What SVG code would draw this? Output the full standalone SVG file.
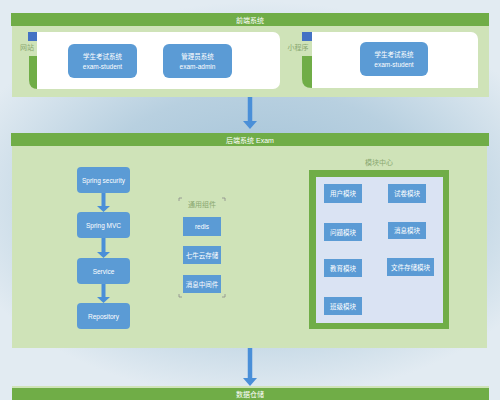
<svg xmlns="http://www.w3.org/2000/svg" width="500" height="400" viewBox="0 0 500 400">
<defs>
<radialGradient id="bg" cx="0.52" cy="0.5" r="0.62" gradientTransform="translate(0.5 0.5) scale(1 0.8) translate(-0.5 -0.5)">
<stop offset="0" stop-color="#9fc0d6"/>
<stop offset="0.55" stop-color="#b8d0e0"/>
<stop offset="1" stop-color="#e2ebf2"/>
</radialGradient>
<marker id="ah" viewBox="0 0 10 10" refX="9" refY="5" markerWidth="3" markerHeight="3" orient="auto" markerUnits="strokeWidth">
<path d="M0,0 L10,5 L0,10 z" fill="#4a8fd8"/>
</marker>
</defs>
<style>
.bar{fill:#70ad47}
.panel{fill:#cfe3b8}
.bartext{font-family:"Liberation Sans","Noto Sans CJK SC",sans-serif;font-size:7px;fill:#ffffff;text-anchor:middle}
.node rect{fill:#5b9bd5}
.node text{font-family:"Liberation Sans","Noto Sans CJK SC",sans-serif;font-size:6.5px;fill:#ffffff;text-anchor:middle}
.lbl{font-family:"Liberation Sans","Noto Sans CJK SC",sans-serif;font-size:7px;fill:#8aa870;text-anchor:middle}
.white{fill:#ffffff}
.tab{fill:#70ad47}
.sq{fill:#4472c4}
.conn{stroke:#4a8fd8;fill:none}
.bracket{stroke:#8c8c8c;stroke-width:0.8;fill:none}
</style>
<rect width="500" height="400" fill="url(#bg)"/>

<!-- Front-end section -->
<g id="frontend">
<rect class="panel" x="12" y="13" width="477" height="84"/>
<rect class="bar" x="11" y="13" width="478" height="13"/>
<text class="bartext" x="250" y="22.5">前端系统</text>
</g>
<g id="website">
<path class="tab" d="M29,56 H37 V89 H38 Q29,89 29,80 Z"/>
<rect class="white" x="37" y="32" width="243" height="57" rx="7"/>
<rect class="white" x="37" y="32" width="10" height="57"/>
<rect class="sq" x="28" y="32" width="9" height="9"/>
<text class="lbl" x="27" y="50">网站</text>
</g>
<g id="miniapp">
<path class="tab" d="M302,56 H312 V88 H312 Q302,88 302,79 Z"/>
<rect class="white" x="312" y="32" width="166" height="56" rx="7"/>
<rect class="white" x="312" y="32" width="10" height="56"/>
<rect class="white" x="468" y="78" width="10" height="10"/>
<rect class="sq" x="302" y="32" width="10" height="9"/>
<text class="lbl" x="298" y="50">小程序</text>
</g>
<g id="n-student1" class="node">
<rect x="68" y="44" width="69" height="34" rx="6"/>
<text x="102.5" y="58.5">学生考试系统</text>
<text x="102.5" y="68.5" font-size="5.5">exam-student</text>
</g>
<g id="n-admin" class="node">
<rect x="163" y="44" width="69" height="34" rx="6"/>
<text x="197.5" y="58.5">管理员系统</text>
<text x="197.5" y="68.5" font-size="5.5">exam-admin</text>
</g>
<g id="n-student2" class="node">
<rect x="360" y="42" width="68" height="34" rx="6"/>
<text x="394" y="56.5">学生考试系统</text>
<text x="394" y="66.5" font-size="5.5">exam-student</text>
</g>

<!-- Backend section -->
<g id="backend">
<rect class="panel" x="12" y="133" width="475" height="215"/>
<rect class="bar" x="11" y="133" width="478" height="13"/>
<text class="bartext" x="250" y="142.5">后端系统 Exam</text>
</g>
<g id="n-security" class="node">
<rect x="77" y="167" width="53" height="26" rx="4"/>
<text x="103.5" y="182.5">Spring security</text>
</g>
<g id="n-mvc" class="node">
<rect x="77" y="212" width="53" height="26" rx="4"/>
<text x="103.5" y="227.5">Spring MVC</text>
</g>
<g id="n-service" class="node">
<rect x="77" y="258" width="53" height="26" rx="4"/>
<text x="103.5" y="273.5">Service</text>
</g>
<g id="n-repository" class="node">
<rect x="77" y="303" width="53" height="26" rx="4"/>
<text x="103.5" y="318.5">Repository</text>
</g>

<g id="common">
<text class="lbl" x="202" y="207">通用组件</text>
<path class="bracket" d="M179,201 V198 H182 M222,198 H225 V201 M179,294 V297 H182 M222,297 H225 V294"/>
</g>
<g id="n-redis" class="node">
<rect x="183" y="217" width="38" height="19"/>
<text x="202" y="229">redis</text>
</g>
<g id="n-qiniu" class="node">
<rect x="183" y="246" width="38" height="18"/>
<text x="202" y="257.5">七牛云存储</text>
</g>
<g id="n-mq" class="node">
<rect x="183" y="275" width="38" height="18"/>
<text x="202" y="286.5">消息中间件</text>
</g>

<g id="modules">
<text class="lbl" x="379" y="165">模块中心</text>
<rect x="309" y="170" width="140" height="159" fill="#70ad47"/>
<rect x="316" y="177" width="127" height="146" fill="#dae3f3"/>
</g>
<g id="n-user" class="node">
<rect x="324" y="184" width="38" height="19"/>
<text x="343" y="196">用户模块</text>
</g>
<g id="n-paper" class="node">
<rect x="388" y="184" width="38" height="19"/>
<text x="407" y="196">试卷模块</text>
</g>
<g id="n-question" class="node">
<rect x="324" y="223" width="38" height="18"/>
<text x="343" y="234.5">问题模块</text>
</g>
<g id="n-message" class="node">
<rect x="388" y="222" width="38" height="17"/>
<text x="407" y="233">消息模块</text>
</g>
<g id="n-edu" class="node">
<rect x="324" y="259" width="38" height="18"/>
<text x="343" y="270.5">教育模块</text>
</g>
<g id="n-file" class="node">
<rect x="387" y="258" width="47" height="18"/>
<text x="410.5" y="269.5">文件存储模块</text>
</g>
<g id="n-class" class="node">
<rect x="324" y="297" width="38" height="18"/>
<text x="343" y="308.5">班级模块</text>
</g>

<!-- Data section -->
<g id="data">
<rect x="12" y="386" width="477" height="14" fill="#cfe3b8"/>
<rect class="bar" x="12" y="388" width="477" height="12"/>
<text class="bartext" x="250" y="397">数据仓储</text>
</g>

<g id="connectors">
<path class="conn" d="M250,97 V122" stroke-width="4.5"/>
<path d="M243,121 H257 L250,129 Z" fill="#4a8fd8"/>
<path class="conn" d="M250,348 V379" stroke-width="4.5"/>
<path d="M243,378 H257 L250,386 Z" fill="#4a8fd8"/>
<path class="conn" d="M103.5,193 V207" stroke-width="4"/>
<path d="M97,206 H110 L103.5,212 Z" fill="#4a8fd8"/>
<path class="conn" d="M103.5,238 V253" stroke-width="4"/>
<path d="M97,252 H110 L103.5,258 Z" fill="#4a8fd8"/>
<path class="conn" d="M103.5,284 V298" stroke-width="4"/>
<path d="M97,297 H110 L103.5,303 Z" fill="#4a8fd8"/>
</g>
</svg>
